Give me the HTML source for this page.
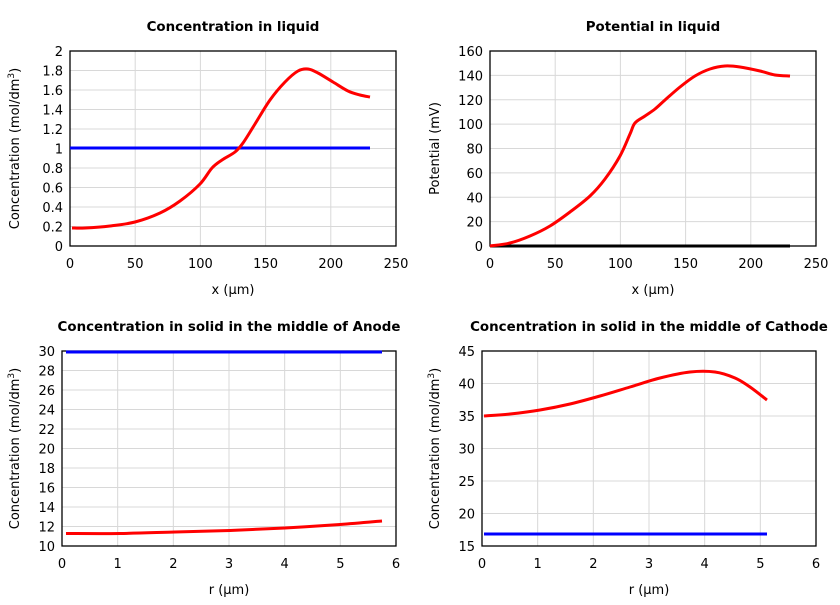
<!DOCTYPE html><html><head><meta charset="utf-8"><style>body{margin:0;background:#fff}svg{font-family:"DejaVu Sans","Liberation Sans",sans-serif}</style></head><body>
<svg id="s" width="840" height="600" xmlns="http://www.w3.org/2000/svg"></svg>
<script>
const s=document.getElementById('s');let h='';
function panel(x0,x1,y0,y1,xt,yt,title,xl,yl,ylx){
 const w=x1-x0,hh=y1-y0;
 xt.forEach((v,i)=>{const x=x0+w*i/(xt.length-1);
  if(i>0&&i<xt.length-1)h+=`<line x1="${x}" y1="${y0}" x2="${x}" y2="${y1}" stroke="#d8d8d8"/>`;
  h+=`<text x="${x}" y="${y1+22}" font-size="13" text-anchor="middle">${v}</text>`;});
 yt.forEach((v,i)=>{const y=y1-hh*i/(yt.length-1);
  if(i>0&&i<yt.length-1)h+=`<line x1="${x0}" y1="${y}" x2="${x1}" y2="${y}" stroke="#d8d8d8"/>`;
  h+=`<text x="${x0-7}" y="${y+5}" font-size="13" text-anchor="end">${v}</text>`;});
 h+=`<rect x="${x0}" y="${y0}" width="${w}" height="${hh}" fill="none" stroke="#000" stroke-width="1.3"/>`;
 h+=`<text x="${(x0+x1)/2}" y="${y0-20}" font-size="13.4" font-weight="bold" text-anchor="middle">${title}</text>`;
 h+=`<text x="${(x0+x1)/2}" y="${y1+48}" font-size="13" text-anchor="middle">${xl}</text>`;
 h+=`<text transform="translate(${ylx},${(y0+y1)/2}) rotate(-90)" font-size="13" text-anchor="middle">${yl}</text>`;
}
function line(p,c){
 let d=`M${p[0][0]},${p[0][1]}`;
 for(let i=0;i<p.length-1;i++){const a=p[i-1]||p[i],b=p[i],c2=p[i+1],e=p[i+2]||c2;
  d+=` C${b[0]+(c2[0]-a[0])/6},${b[1]+(c2[1]-a[1])/6} ${c2[0]-(e[0]-b[0])/6},${c2[1]-(e[1]-b[1])/6} ${c2[0]},${c2[1]}`;}
 h+=`<path d="${d}" fill="none" stroke="${c}" stroke-width="3" stroke-linejoin="round"/>`;}
const ylab='Concentration (mol/dm<tspan font-size="9" dy="-5">3</tspan><tspan dy="5">)</tspan>';
panel(70,396,51,246,[0,50,100,150,200,250],[0,0.2,0.4,0.6,0.8,1,1.2,1.4,1.6,1.8,2],'Concentration in liquid','x (µm)',ylab,19);
panel(490,816,51,246,[0,50,100,150,200,250],[0,20,40,60,80,100,120,140,160],'Potential in liquid','x (µm)','Potential (mV)',439);
panel(62,396,351,546,[0,1,2,3,4,5,6],[10,12,14,16,18,20,22,24,26,28,30],'Concentration in solid in the middle of Anode','r (µm)',ylab,19);
panel(482,816,351,546,[0,1,2,3,4,5,6],[15,20,25,30,35,40,45],'Concentration in solid in the middle of Cathode','r (µm)',ylab,439);
line([[70,148],[370,148]],'#0000ff');
line([[72,228],[85,228],[110,226],[135,222],[160,213],[180,201],[200,184],[212,168],[222,160],[235,152],[243,143],[255,124],[270,100],[285,82],[298,71],[308,69],[318,73],[333,82],[348,91],[360,95],[370,97]],'red');
line([[490,246],[790,246]],'#000');
line([[490,246],[510,243],[530,236],[550,226],[570,212],[590,196],[605,179],[620,156],[630,134],[635,123],[645,116],[655,109],[665,100],[680,87],[695,76],[710,69],[725,66],[740,67],[760,71],[775,75],[790,76]],'red');
line([[66,352],[382,352]],'#0000ff');
line([[66,533.5],[120,533.5],[175,532],[230,530.5],[285,528],[340,524.5],[382,521]],'red');
line([[484,534],[767,534]],'#0000ff');
line([[484,416],[510,414],[540,410],[570,404],[600,396],[630,387],[660,378],[690,372],[715,372],[735,378],[750,387],[767,400]],'red');
s.innerHTML=h;
</script></body></html>
